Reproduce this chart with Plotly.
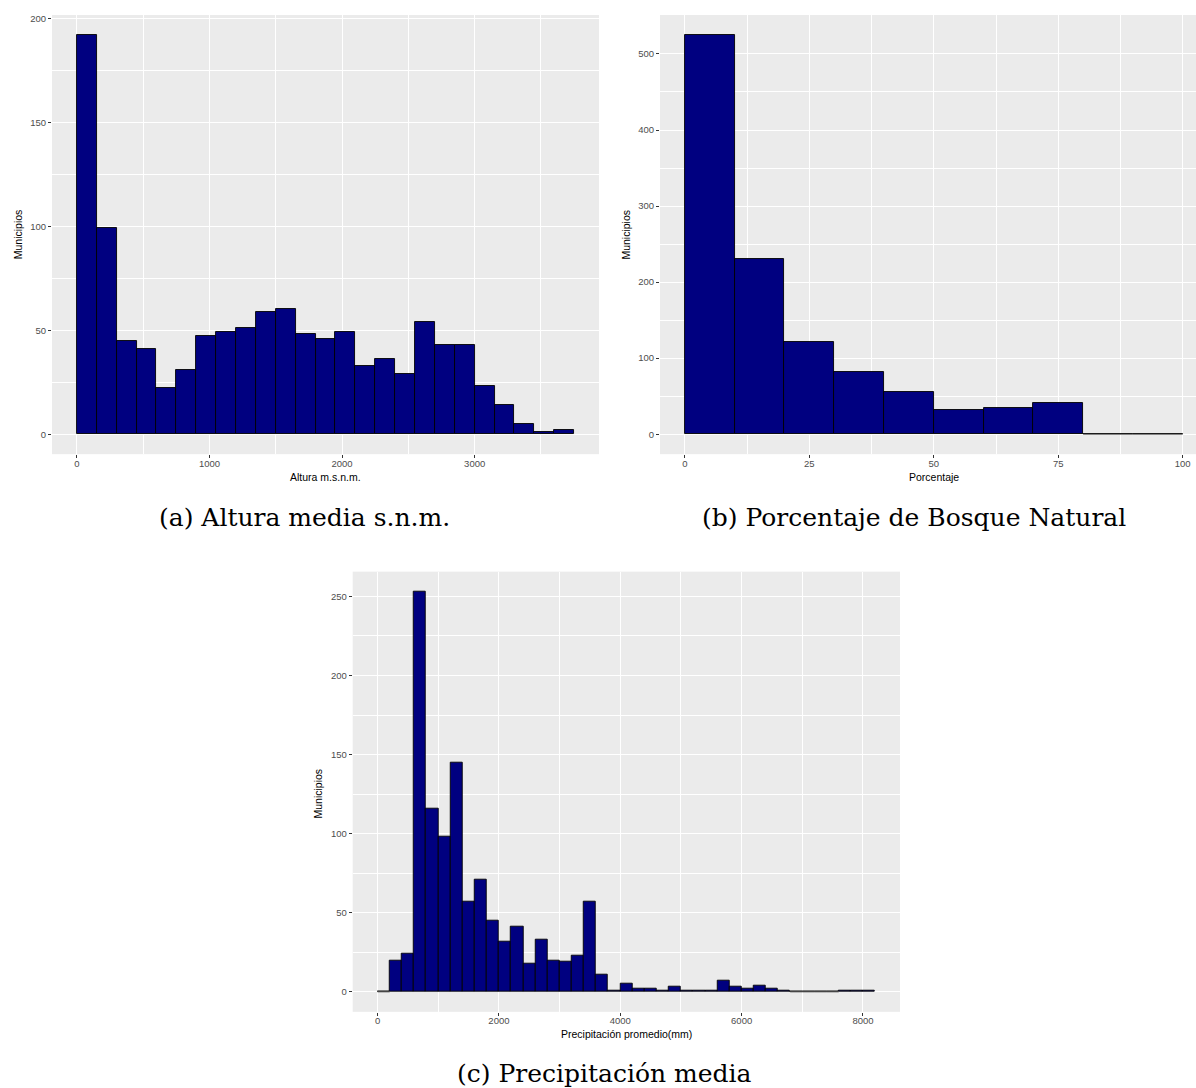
import plotly.graph_objects as go

W, H = 1196, 1088

# ---- data: histogram counts (municipios per bin) ----
alt_start, alt_width = 0, 150
alt_counts = [192, 99, 45, 41, 22, 31, 47, 49, 51, 59, 60, 48, 46, 49, 33,
              36, 29, 54, 43, 43, 23, 14, 5, 1, 2]

bosque_start, bosque_width = 0, 10
bosque_counts = [525, 230, 121, 82, 56, 32, 34, 41, 0, 0]

precip_start, precip_width = 0, 200
precip_counts = [0, 20, 24, 253, 116, 98, 145, 57, 71, 45, 32, 41, 18, 33, 20,
                 19, 23, 57, 11, 1, 5, 2, 2, 1, 3, 1, 1, 1, 7, 3, 2, 4, 2, 1,
                 0, 0, 0, 0, 1, 1, 1]

alt_xticks = [0, 1000, 2000, 3000]
alt_yticks = [0, 50, 100, 150, 200]
bosque_xticks = [0, 25, 50, 75, 100]
bosque_yticks = [0, 100, 200, 300, 400, 500]
precip_xticks = [0, 2000, 4000, 6000, 8000]
precip_yticks = [0, 50, 100, 150, 200, 250]

titles_x = ["Altura m.s.n.m.", "Porcentaje", "Precipitación promedio(mm)"]
title_y = "Municipios"
captions = ["(a) Altura media s.n.m.", "(b) Porcentaje de Bosque Natural",
            "(c) Precipitación media"]

NAVY = "#000080"
PANEL = "#EBEBEB"
TICKTXT = "#4D4D4D"
SANS = "Liberation Sans, Arial, sans-serif"
SERIF = "DejaVu Serif, serif"


def px_x(x):
    return x / W


def px_y(y):
    return 1 - y / H


def hist(counts, start, width, xa, ya):
    centers = [start + width * (i + 0.5) for i in range(len(counts))]
    bars = go.Bar(x=centers, y=counts, width=width, xaxis=xa, yaxis=ya,
                  marker=dict(color=NAVY, line=dict(color="black", width=0.9)),
                  showlegend=False, hoverinfo="x+y")
    # empty bins still show their outline along the baseline
    xs, ys = [], []
    for i, c in enumerate(counts):
        if c == 0:
            xs += [start + width * i, start + width * (i + 1), None]
            ys += [0, 0, None]
    base = go.Scatter(x=xs, y=ys, mode="lines", xaxis=xa, yaxis=ya,
                      line=dict(color="#555555", width=1),
                      showlegend=False, hoverinfo="skip")
    return [bars, base]


def axis(domain, rng, ticks, minor_step, anchor, standoff=0):
    return dict(domain=domain, range=rng, anchor=anchor,
                tickmode="array", tickvals=ticks,
                ticks="outside", ticklen=3, tickwidth=1, tickcolor="#333333",
                ticklabelstandoff=standoff,
                tickfont=dict(family=SANS, size=9.5, color=TICKTXT),
                showgrid=True, gridcolor="white", gridwidth=1.1,
                minor=dict(dtick=minor_step, tick0=0, showgrid=True,
                           gridcolor="white", gridwidth=0.6, ticks=""),
                zeroline=False, showline=False, fixedrange=True)


fig = go.Figure()
for t in hist(alt_counts, alt_start, alt_width, "x", "y"):
    fig.add_trace(t)
for t in hist(bosque_counts, bosque_start, bosque_width, "x2", "y2"):
    fig.add_trace(t)
for t in hist(precip_counts, precip_start, precip_width, "x3", "y3"):
    fig.add_trace(t)

top_dom = [px_y(453), px_y(13)]
bot_dom = [px_y(1011.7), px_y(570.7)]

fig.update_layout(
    width=W, height=H,
    margin=dict(l=0, r=0, t=0, b=0),
    paper_bgcolor="white", plot_bgcolor=PANEL,
    bargap=0,
    xaxis=axis([px_x(52), px_x(599)], [-187.5, 3937.5], alt_xticks, 500, "y", -3),
    yaxis=axis(top_dom, [-9.6, 201.6], alt_yticks, 25, "x"),
    xaxis2=axis([px_x(660), 1.0], [-5, 102.67], bosque_xticks, 12.5, "y2", -3),
    yaxis2=axis(top_dom, [-26.25, 551.25], bosque_yticks, 50, "x2"),
    xaxis3=axis([px_x(352.7), px_x(900)], [-410, 8610], precip_xticks, 1000, "y3", -3),
    yaxis3=axis(bot_dom, [-12.65, 265.65], precip_yticks, 25, "x3"),
)

ann = []
# axis titles
for (cx, cy), txt in zip([(325.5, 476), (934, 476), (626, 1034)], titles_x):
    ann.append(dict(x=px_x(cx), y=px_y(cy), xref="paper", yref="paper",
                    text=txt, showarrow=False, xanchor="center", yanchor="middle",
                    font=dict(family=SANS, size=10.5, color="black")))
for cx, cy in [(17.7, 233), (626, 233), (318, 793)]:
    ann.append(dict(x=px_x(cx), y=px_y(cy), xref="paper", yref="paper",
                    text=title_y, textangle=-90, showarrow=False,
                    xanchor="center", yanchor="middle",
                    font=dict(family=SANS, size=10.5, color="black")))
# sub-figure captions
for (cx, cy), txt in zip([(304, 516), (913.5, 516), (604, 1073)], captions):
    ann.append(dict(x=px_x(cx), y=px_y(cy), xref="paper", yref="paper",
                    text=txt, showarrow=False, xanchor="center", yanchor="middle",
                    font=dict(family=SERIF, size=25, color="black")))
fig.update_layout(annotations=ann)

fig.write_html("out.html")
